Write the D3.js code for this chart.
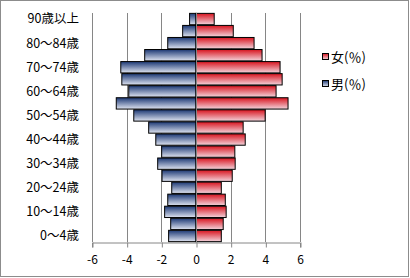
<!DOCTYPE html>
<html>
<head>
<meta charset="utf-8">
<script src="https://cdn.jsdelivr.net/npm/d3@7"></script>
<style>
  body { margin: 0; background: #fff; }
  #chart { width: 410px; height: 278px; }
  text { font-family: "Noto Sans CJK JP", "Noto Sans", sans-serif; fill: #000; }
</style>
</head>
<body>
<div id="chart"></div>
<script>
// age groups, bottom to top
const ageGroups = ["0～4歳", "5～9歳", "10～14歳", "15～19歳", "20～24歳", "25～29歳", "30～34歳",
    "35～39歳", "40～44歳", "45～49歳", "50～54歳", "55～59歳", "60～64歳", "65～69歳",
    "70～74歳", "75～79歳", "80～84歳", "85～89歳", "90歳以上"];

// male shares drawn to the left (negative)
const maleValues = [-1.58, -1.46, -1.81, -1.63, -1.40, -1.96, -2.21, -1.98, -2.32, -2.73,
    -3.59, -4.60, -3.88, -4.28, -4.34, -2.96, -1.63, -0.77, -0.37];

const femaleValues = [1.46, 1.57, 1.74, 1.69, 1.46, 2.09, 2.26, 2.24, 2.84, 2.72,
    3.99, 5.31, 4.62, 4.97, 4.85, 3.81, 3.35, 2.15, 1.05];

const xTicks = [-6, -4, -2, 0, 2, 4, 6];
const legendLabels = ["女(％)", "男(％)"];

let margin = {top: 13, left: 92, right: 110, bottom: 36};
let width = 410, height = 278;
let plotW = width - margin.left - margin.right;
let plotH = height - margin.top - margin.bottom;

let svg = d3.select("#chart").append("svg")
    .attr("width", width)
    .attr("height", height);

// gradients for the bars
let defs = svg.append("defs");
function addGradient(id, top, bottom) {
    let g = defs.append("linearGradient")
        .attr("id", id)
        .attr("x1", 0).attr("y1", 0).attr("x2", 0).attr("y2", 1);
    g.append("stop").attr("offset", "0%").attr("stop-color", top);
    g.append("stop").attr("offset", "100%").attr("stop-color", bottom);
}
addGradient("gradMale", "#1c3874", "#dfe4f1");
addGradient("gradFemale", "#d8141f", "#f3d4dc");

// outer frame
svg.append("rect")
    .attr("x", 0.5).attr("y", 0.5)
    .attr("width", width - 2).attr("height", height - 2)
    .attr("fill", "#fff")
    .attr("stroke", "#8c8c8c");

let g = svg.append("g")
    .attr("transform", "translate(" + margin.left + "," + margin.top + ")");

let x = d3.scaleLinear()
    .domain([-6, 6])
    .range([0, plotW]);

let y = d3.scaleBand()
    .domain(ageGroups.slice().reverse())
    .range([0, plotH])
    .paddingInner(0.06)
    .paddingOuter(0.03);

// vertical gridlines
g.selectAll(".grid")
    .data(xTicks)
    .join("line")
    .attr("class", "grid")
    .attr("x1", d => Math.round(x(d)) + 0.5)
    .attr("x2", d => Math.round(x(d)) + 0.5)
    .attr("y1", 0)
    .attr("y2", plotH)
    .attr("stroke", "#868686");

// x axis
let xAxis = g.append("g")
    .attr("transform", "translate(0," + (Math.round(plotH) + 0.5) + ")")
    .call(d3.axisBottom(x).tickValues(xTicks).tickSize(5).tickPadding(8));
xAxis.select(".domain").attr("stroke", "#868686");
xAxis.selectAll(".tick line").attr("stroke", "#868686")
    .attr("transform", "translate(0.5,0)");
xAxis.selectAll(".tick text")
    .style("font-size", "12px")
    .text(d => d);

// bars
g.selectAll(".male")
    .data(ageGroups)
    .join("rect")
    .attr("class", "male")
    .attr("x", (d, i) => x(maleValues[i]))
    .attr("y", d => y(d))
    .attr("width", (d, i) => x(0) - x(maleValues[i]))
    .attr("height", y.bandwidth())
    .attr("fill", "url(#gradMale)")
    .attr("stroke", "#000")
    .attr("stroke-width", 1);

g.selectAll(".female")
    .data(ageGroups)
    .join("rect")
    .attr("class", "female")
    .attr("x", x(0))
    .attr("y", d => y(d))
    .attr("width", (d, i) => x(femaleValues[i]) - x(0))
    .attr("height", y.bandwidth())
    .attr("fill", "url(#gradFemale)")
    .attr("stroke", "#000")
    .attr("stroke-width", 1);

// zero line on top
g.append("line")
    .attr("x1", Math.round(x(0)) + 0.5)
    .attr("x2", Math.round(x(0)) + 0.5)
    .attr("y1", 0)
    .attr("y2", plotH)
    .attr("stroke", "#868686");

// category labels, every other one
g.selectAll(".ylabel")
    .data(ageGroups.filter((d, i) => i % 2 === 0))
    .join("text")
    .attr("class", "ylabel")
    .attr("x", -13)
    .attr("y", d => y(d) + y.bandwidth() / 2)
    .attr("dy", "0.35em")
    .attr("text-anchor", "end")
    .style("font-size", "12.5px")
    .text(d => d);

// legend
let legend = svg.append("g")
    .attr("transform", "translate(322,53)");
let legendColors = ["url(#gradFemale)", "url(#gradMale)"];
legendLabels.forEach((lab, i) => {
    legend.append("rect")
        .attr("x", 0.5)
        .attr("y", i * 27 + 0.5)
        .attr("width", 6)
        .attr("height", 6)
        .attr("fill", legendColors[i])
        .attr("stroke", "#000");
    legend.append("text")
        .attr("x", 9)
        .attr("y", i * 27 + 4)
        .attr("dy", "0.35em")
        .style("font-size", "13px")
        .text(lab);
});
</script>
</body>
</html>
